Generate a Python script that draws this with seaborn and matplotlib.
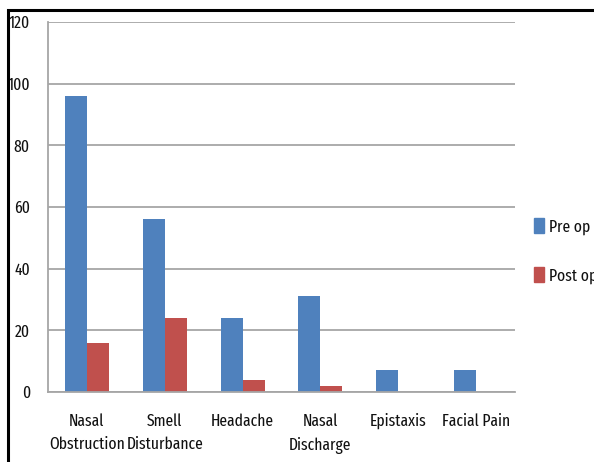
import matplotlib
matplotlib.use("Agg")
import matplotlib.pyplot as plt
import matplotlib.patches as mpatches
import seaborn as sns
import pandas as pd

categories = ["Nasal\nObstruction", "Smell\nDisturbance", "Headache",
              "Nasal\nDischarge", "Epistaxis", "Facial Pain"]
pre_op = [96, 56, 24, 31, 7, 7]
post_op = [16, 24, 4, 2, 0, 0]
series = ["Pre op", "Post op"]
colors = ["#4F81BD", "#C0504D"]

df = pd.DataFrame({
    "symptom": categories * 2,
    "count": pre_op + post_op,
    "phase": [series[0]] * len(categories) + [series[1]] * len(categories),
})

sns.set_style("white")
plt.rcParams["font.family"] = ["Fira Sans Extra Condensed", "DejaVu Sans"]
plt.rcParams["font.weight"] = "normal"

fig = plt.figure(figsize=(5.94, 4.62), dpi=100)
ax = fig.add_axes([48 / 594, 1 - 392 / 462, (515 - 48) / 594, (392 - 22) / 462])

sns.barplot(data=df, x="symptom", y="count", hue="phase", palette=colors,
            width=0.566, gap=0, saturation=1, ax=ax, legend=False,
            edgecolor="none", linewidth=0)

ax.set_xlim(-0.5, len(categories) - 0.5)
ax.set_ylim(0, 120)
ax.set_yticks(range(0, 121, 20))
ax.set_xlabel("")
ax.set_ylabel("")

grid_c = "#a6a6a6"
ax.yaxis.grid(True, color=grid_c, linewidth=1.3)
ax.set_axisbelow(True)
for side in ["top", "right"]:
    ax.spines[side].set_visible(False)
for side in ["left", "bottom"]:
    ax.spines[side].set_color(grid_c)
    ax.spines[side].set_linewidth(1.3)

fs = 12.2
txt_c = "#111111"
ax.set_xticks([i - 0.5 for i in range(len(categories) + 1)], minor=True)
ax.tick_params(axis="x", which="major", length=0, pad=15, labelsize=fs, labelcolor=txt_c)
ax.tick_params(axis="x", which="minor", length=6, color=grid_c, width=1.3)
ax.tick_params(axis="y", length=6, color=grid_c, width=1.3, labelsize=fs, pad=7, labelcolor=txt_c)
for lbl in ax.get_xticklabels():
    lbl.set_linespacing(1.6)

handles = [mpatches.Patch(color=c, label=s) for c, s in zip(colors, series)]
leg = fig.legend(handles=handles, loc="center left", bbox_to_anchor=(534 / 594, 1 - 251 / 462),
                 frameon=False, fontsize=fs, handlelength=0.6, handleheight=1.0,
                 handletextpad=0.3, labelspacing=1.9, borderaxespad=0, borderpad=0)
for t in leg.get_texts():
    t.set_color(txt_c)

# outer frame along the top and left edges
fig.add_artist(mpatches.Rectangle((8 / 594, -0.1), 1.2, 1.1 - 10 / 462,
                                  transform=fig.transFigure, fill=False,
                                  edgecolor="black", linewidth=2.2))

fig.savefig("out.png", dpi=100)
